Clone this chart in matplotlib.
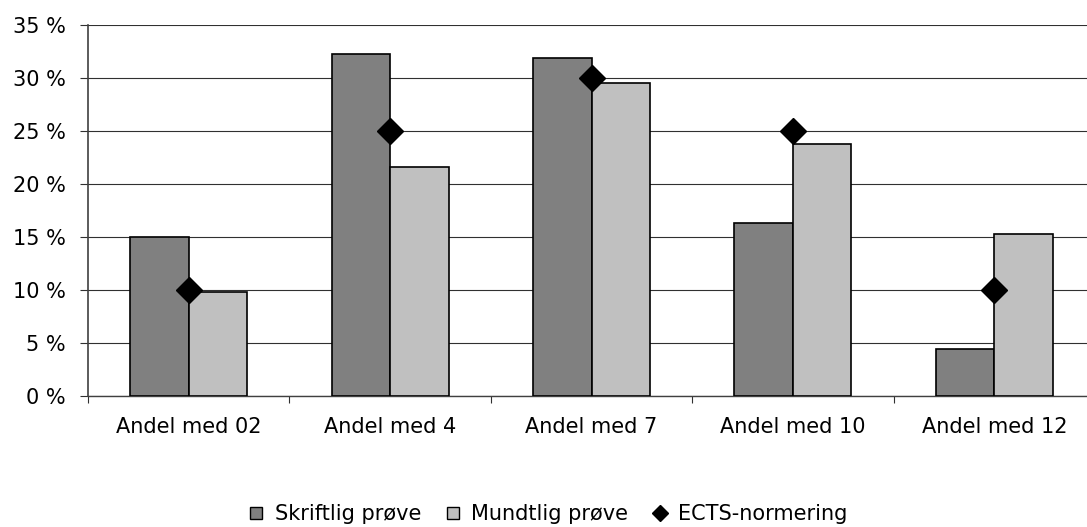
import numpy as np
import matplotlib
matplotlib.use('Agg')
import matplotlib.pyplot as plt
from matplotlib.lines import Line2D
from matplotlib.ticker import FuncFormatter

# Data (percent)
categories = ['Andel med 02', 'Andel med 4', 'Andel med 7', 'Andel med 10', 'Andel med 12']
skriftlig = [15.0, 32.3, 31.9, 16.3, 4.4]
mundtlig = [9.8, 21.6, 29.5, 23.8, 15.3]
ects = [10, 25, 30, 25, 10]

plt.rcParams['font.family'] = ['DejaVu Sans']
plt.rcParams['font.size'] = 15

fig = plt.figure(figsize=(10.87, 5.27), dpi=100)
ax = fig.add_axes([88 / 1087, 1 - 396 / 527, 1007 / 1087, 371 / 527])

x = np.arange(len(categories))
w = 0.29
ax.bar(x - w / 2, skriftlig, w, color='#808080', edgecolor='black', linewidth=1.2, zorder=3)
ax.bar(x + w / 2, mundtlig, w, color='#c0c0c0', edgecolor='black', linewidth=1.2, zorder=3)
ax.plot(x, ects, linestyle='none', marker='D', markersize=13, color='black', zorder=4)

ax.set_xlim(-0.5, 4.5)
ax.set_ylim(0, 35)
ax.set_yticks(np.arange(0, 36, 5))
ax.yaxis.set_major_formatter(FuncFormatter(lambda v, p: f'{int(v)} %'))
ax.yaxis.grid(True, color='#303030', linewidth=0.8, zorder=0)
ax.tick_params(axis='y', length=6, width=0.8, color='#303030', pad=10)

ax.set_xticks(x)
ax.set_xticklabels(categories)
ax.set_xticks(np.arange(-0.5, 4.5, 1), minor=True)
ax.tick_params(axis='x', which='major', length=0, pad=15)
ax.tick_params(axis='x', which='minor', length=5, width=0.8, color='#303030')

for s in ['top', 'right']:
    ax.spines[s].set_visible(False)
ax.spines['left'].set_color('#404040')
ax.spines['left'].set_linewidth(1.2)
ax.spines['bottom'].set_color('#404040')
ax.spines['bottom'].set_linewidth(1.0)

handles = [
    Line2D([], [], linestyle='none', marker='s', markersize=9, markerfacecolor='#808080', markeredgecolor='black'),
    Line2D([], [], linestyle='none', marker='s', markersize=9, markerfacecolor='#c0c0c0', markeredgecolor='black'),
    Line2D([], [], linestyle='none', marker='D', markersize=8, color='black'),
]
fig.legend(handles, ['Skriftlig prøve', 'Mundtlig prøve', 'ECTS-normering'],
           loc='center', bbox_to_anchor=(0.503, 0.025), ncol=3, frameon=False,
           handletextpad=0.4, columnspacing=1.0, handlelength=1.0, borderpad=0)

fig.savefig('out.png', dpi=100)
